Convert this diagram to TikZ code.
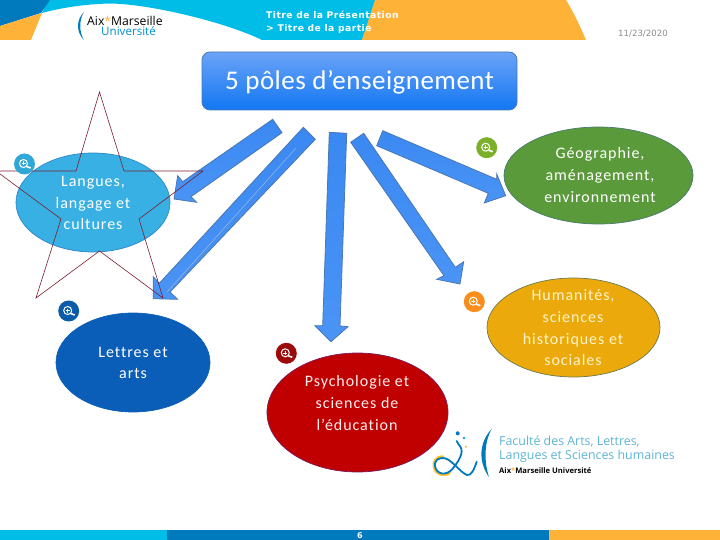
\documentclass[tikz,border=0pt]{standalone}
\usepackage{fontspec}
\setmainfont{Carlito}[Ligatures=NoCommon]
\newfontfamily\headfont{DejaVu Sans}
\newfontfamily\logofont{Open Sans}
\usetikzlibrary{calc,shapes.geometric}
\definecolor{cyanband}{HTML}{00BDE8}
\definecolor{deepblue}{HTML}{0079BD}
\definecolor{amber}{HTML}{FFB238}
\definecolor{arrowedge}{HTML}{4A78B0}
\definecolor{arrowtop}{HTML}{3A88F2}
\definecolor{arrowlow}{HTML}{4A94F5}
\definecolor{titletop}{HTML}{6BA3F7}
\definecolor{titlelow}{HTML}{1277F3}
\definecolor{languesedge}{HTML}{2E86C8}
\definecolor{languesfill}{HTML}{38B0E3}
\definecolor{geoedge}{HTML}{4A7A70}
\definecolor{geofill}{HTML}{5B9A3A}
\definecolor{humedge}{HTML}{6C7A50}
\definecolor{humfill}{HTML}{EBA90B}
\definecolor{humtxt}{HTML}{FFF4C8}
\definecolor{lettresfill}{HTML}{0A5EB8}
\definecolor{psyedge}{HTML}{7A1A60}
\definecolor{psyfill}{HTML}{C00000}
\definecolor{psytxt}{HTML}{FFF0F0}
\definecolor{starcol}{HTML}{7A1F2E}
\definecolor{iconcyan}{HTML}{2FA8D8}
\definecolor{iconnavy}{HTML}{0B5CA8}
\definecolor{icongreen}{HTML}{7DB02A}
\definecolor{iconorange}{HTML}{F98E1D}
\definecolor{iconred}{HTML}{9C0A0A}
\definecolor{facteal}{HTML}{5DB4D2}
\definecolor{midline}{HTML}{9DB8D8}
\tikzset{
  x=1pt,y=-1pt,
  pole/.style={ellipse,inner sep=0pt,line width=0.7pt,align=center},
  poletext/.style={text=white,font=\fontsize{16}{21.7}\selectfont\addfontfeatures{LetterSpace=6},align=center,inner sep=0pt},
  blockarrow/.style={draw=arrowedge,line width=0.8pt,line join=miter,top color=arrowtop,bottom color=arrowlow},
  starline/.style={draw=starcol,line width=0.6pt},
  zoomdisc/.style={circle,minimum size=21pt,inner sep=0pt},
}
\newcommand{\zoomicon}[4]{% name, x, y, colour
  \node[zoomdisc,fill=#4] (#1) at (#2,#3) {};
  \draw[white,line width=1pt] ($(#1)+(-1,-0.5)$) circle (4pt);
  \draw[white,line width=1.6pt] ($(#1)+(2,2.5)$) -- ($(#1)+(6,4)$);
  \draw[white,line width=0.5pt] ($(#1)+(-3,-0.5)$) -- ($(#1)+(1,-0.5)$) ($(#1)+(-1,-2.5)$) -- ($(#1)+(-1,1.5)$);
}
\begin{document}
\begin{tikzpicture}
\useasboundingbox (0,0) rectangle (720,540);
\clip (0,0) rectangle (720,540);
% header
\fill[cyanband] (48,0) -- (376,0) -- (362,40) -- (262,40) .. controls (225,22) and (150,4) .. (110,3.5) .. controls (85,4) and (60,8) .. (42,13) -- cycle;
\fill[deepblue] (0,0) -- (50,0) -- (41,13) -- (0,26) -- cycle;
\fill[amber] (0,26) -- (42,13) -- (31,40) -- (0,40) -- cycle;
\fill[amber] (375,0) -- (566,0) .. controls (574,13) and (580,26) .. (586,40) -- (362,40) -- cycle;
\node[anchor=west,inner sep=0pt,text=white,font=\headfont\bfseries\fontsize{9.2}{12.5}\selectfont\addfontfeatures{LetterSpace=5},align=left] (headtext) at (266,22.5) {Titre de la Présentation\\> Titre de la partie};
\node[anchor=west,inner sep=0pt,text=black!45,font=\headfont\fontsize{8.6}{10}\selectfont] (datetext) at (618,34) {11/23/2020};
% top logo
\fill[deepblue] (84,12) .. controls (76,20) and (76,32) .. (84,40) .. controls (79,32) and (79,20) .. (84,12) -- cycle;
\node[anchor=west,inner sep=0pt,font=\logofont\fontsize{12.2}{12}\selectfont] (logoa) at (87,21) {Aix\textcolor{amber}{*}Marseille};
\node[anchor=west,inner sep=0pt,text=deepblue!70!cyanband,font=\logofont\fontsize{11.6}{12}\selectfont] (logob) at (101,31) {Université};
% title
\node[draw=arrowedge,line width=0.8pt,rounded corners=8pt,minimum width=315pt,minimum height=58pt,inner sep=0pt,top color=titletop,bottom color=titlelow] (title) at (359.5,81) {};
\node[inner sep=0pt,text=white,font=\fontsize{27}{30}\selectfont\addfontfeatures{LetterSpace=1.8}] (titletext) at (359.5,82.5) {5 pôles d’enseignement};
% poles
\node[pole,draw=languesedge,fill=languesfill,minimum width=154pt,minimum height=99pt] (langues) at (93,202.5) {};
\node[pole,draw=geoedge,fill=geofill,minimum width=189pt,minimum height=97pt] (geo) at (598.5,175.5) {};
\node[pole,draw=humedge,fill=humfill,minimum width=173pt,minimum height=99pt] (hum) at (573.5,327.5) {};
\node[pole,draw=lettresfill,fill=lettresfill,minimum width=154pt,minimum height=99pt] (lettres) at (133,362.5) {};
\node[pole,draw=psyedge,fill=psyfill,minimum width=181pt,minimum height=119pt] (psy) at (357.5,412.5) {};
\node[poletext] (languestext) at (93,203) {Langues,\\langage et\\cultures};
\node[poletext] (geotext) at (600,175) {Géographie,\\aménagement,\\environnement};
\node[poletext,text=humtxt] (humtext) at (573,328) {Humanités,\\sciences\\historiques et\\sociales};
\node[poletext] (lettrestext) at (133,363) {Lettres et\\arts};
\node[poletext,text=psytxt] (psytext) at (357,403) {Psychologie et\\sciences de\\l’éducation};
% block arrows
\path[blockarrow] (272.7,119.3) -- (282,132.7) -- (191,196.7) -- (196.7,202.3) -- (174,199) -- (177.7,175.7) -- (182.7,181.7) -- cycle;
\path[blockarrow] (303.3,127.3) -- (315.3,139.3) -- (170,292) -- (177.7,299.3) -- (153.3,298.7) -- (153.3,276.7) -- (159.3,283.3) -- cycle;
\draw[midline,line width=0.5pt] (296,148) -- (167,292);
\path[blockarrow] (329.3,132.3) -- (346.7,133.3) -- (340,326) -- (348,326.7) -- (331,341.7) -- (315,325.7) -- (322.7,325.7) -- cycle;
\path[blockarrow] (350.7,142.3) -- (363.7,133.3) -- (455.3,267.3) -- (463.7,261.7) -- (460,284) -- (436.7,279.3) -- (444,275.7) -- cycle;
\path[blockarrow] (382.7,130.7) -- (376.7,145.7) -- (488.3,193.3) -- (484.3,203) -- (505.7,195.7) -- (496.7,174) -- (496.7,179.3) -- cycle;
% star
\draw[starline,line join=miter] (99.5,92) -- (124,171) -- (203,171) -- (139,219) -- (163,298) -- (99.5,251) -- (36,298) -- (61,219) -- (-4,171) -- (76,171) -- cycle;
% zoom icons
\zoomicon{zooma}{24.5}{164}{iconcyan}
\zoomicon{zoomb}{68.7}{311}{iconnavy}
\zoomicon{zoomc}{486.7}{147.7}{icongreen}
\zoomicon{zoomd}{474.3}{301.7}{iconorange}
\zoomicon{zoome}{286.3}{353.3}{iconred}
% faculty logo
\draw[amber!80!yellow,line width=2.2pt,line cap=round] (443,456.5) .. controls (436,456) and (432,462) .. (434,468) .. controls (436,475) and (444,477) .. (450,473);
\draw[deepblue,line width=1.8pt,line cap=round] (476.7,461.7) .. controls (474,470) and (471,476) .. (467,475) .. controls (461,473) and (452,460) .. (445,458.3) .. controls (438,457) and (434,461) .. (435,466) .. controls (436,474) and (446,477) .. (453,468.3) .. controls (459,461) and (464,452) .. (460.5,447) .. controls (459,445) and (457.5,443) .. (456.7,441);
\fill[deepblue] (457.7,433.3) circle (2pt);
\fill[cyanband!60!deepblue] (464,438) circle (1.4pt);
\fill[amber] (466,446.7) circle (1.2pt);
\fill[deepblue] (491.7,429) .. controls (479,442) and (478,462) .. (489,477) .. controls (484,462) and (484,442) .. (491.7,429) -- cycle;
\node[anchor=west,inner sep=0pt,text=facteal,font=\logofont\fontsize{12.4}{14.2}\selectfont,align=left] (faculte) at (499,449.5) {Faculté des Arts, Lettres,\\Langues et Sciences humaines};
\node[anchor=west,inner sep=0pt,font=\logofont\bfseries\fontsize{7.6}{9}\selectfont] (amu) at (499,471) {Aix\textcolor{amber}{*}Marseille Université};
% footer
\fill[cyanband] (0,530) rectangle (168,540);
\fill[deepblue] (167,530) rectangle (550,540);
\fill[amber] (549,530) rectangle (720,540);
\node[inner sep=0pt,text=white,font=\headfont\bfseries\fontsize{8}{9}\selectfont] (pagenum) at (360,535.5) {6};
\end{tikzpicture}
\end{document}
